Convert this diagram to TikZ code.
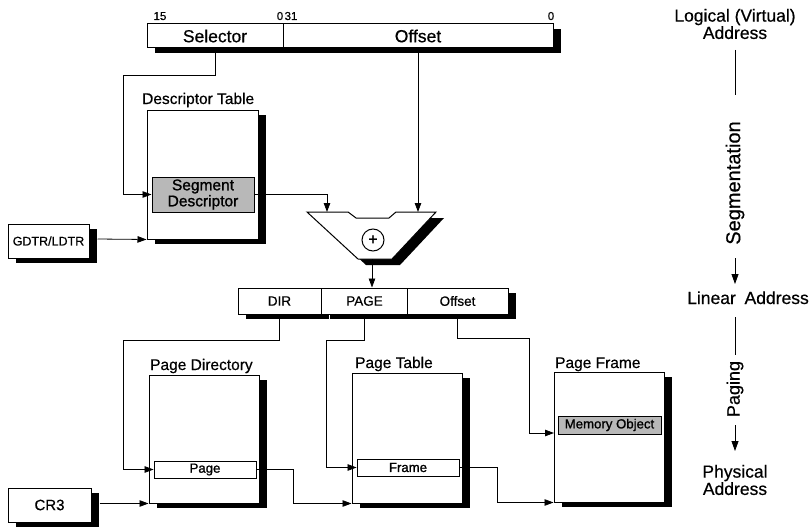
\documentclass[tikz,border=0pt]{standalone}
\usepackage{fontspec}
\setmainfont{Liberation Sans}[FakeBold=0.5]
\newfontfamily\heavyfont{Liberation Sans}[FakeBold=1.2]
\usetikzlibrary{arrows.meta,shadows}
\begin{document}
\begin{tikzpicture}[x=1pt,y=-1pt,
  box/.style={draw=black, line width=1pt, fill=white, inner sep=0pt, rectangle},
  shad/.style={drop shadow={shadow xshift=8pt, shadow yshift=-5pt, fill=black, opacity=1}},
  entry/.style={box, line width=0.9pt},
  grayentry/.style={box, fill=black!28},
  ln/.style={line width=0.8pt},
  arr/.style={ln, -{Triangle[length=9pt,width=6.5pt]}},
  fbig/.style={font=\fontsize{17.5}{20}\selectfont},
  ftitle/.style={font=\fontsize{15.5}{18}\selectfont},
  fmid/.style={font=\fontsize{13.5}{16}\selectfont},
  fheavy/.style={font=\heavyfont\fontsize{13.2}{16}\selectfont},
  fsmall/.style={font=\fontsize{12.5}{15}\selectfont},
  fnum/.style={font=\fontsize{11.5}{13}\selectfont},
  fside/.style={font=\fontsize{17.5}{16}\selectfont},
]
\useasboundingbox (0,0) rectangle (809,527);

% ---------- logical address ----------
\node[box, shad, minimum width=136pt, minimum height=24pt, fbig] (sel) at (215,36) {Selector};
\node[box, shad, minimum width=270pt, minimum height=24pt, fbig] (off) at (418,36) {Offset};
\node[fnum, anchor=base] (n15) at (160,20) {15};
\node[fnum, anchor=base] (n0a) at (280,20) {0};
\node[fnum, anchor=base] (n31) at (291,20) {31};
\node[fnum, anchor=base] (n0b) at (551,20) {0};

% ---------- descriptor table ----------
\node[ftitle, anchor=base west, inner sep=0pt] (dtt) at (142,104) {Descriptor Table};
\node[box, shad, minimum width=111pt, minimum height=129pt] (dt) at (202.5,174.5) {};
\node[grayentry, minimum width=102pt, minimum height=35pt, align=center,
      font=\heavyfont\fontsize{15.5}{16}\selectfont] (sd) at (203,194.5) {Segment\\Descriptor};
\node[box, shad, minimum width=81pt, minimum height=34pt, fsmall] (gdtr) at (48.5,241) {GDTR/LDTR};

% ---------- adder ----------
\fill[black] (315,218) -- (356,218) -- (364,224) -- (397,224) -- (404,218) -- (444,218)
   -- (400,265) -- (366,265) -- cycle;
\draw[line width=1pt, fill=white] (307,212) -- (348,212) -- (356,218) -- (389,218) -- (396,212)
   -- (436,212) -- (392,259) -- (358,259) -- cycle;
\node[draw, circle, line width=1pt, minimum size=22pt, inner sep=0pt,
      font=\heavyfont\fontsize{16}{16}\selectfont] (plus) at (373,240) {+};
\coordinate (addL) at (327,212);
\coordinate (addR) at (418,212);
\coordinate (addB) at (372,259);

% ---------- linear address ----------
\node[box, shad, minimum width=83pt, minimum height=26pt, fmid] (ldir) at (279.5,301) {DIR};
\node[box, shad, minimum width=86pt, minimum height=26pt, fmid] (lpage) at (364.5,301) {PAGE};
\node[box, shad, minimum width=101pt, minimum height=26pt, fmid] (loff) at (457.5,301) {Offset};

% ---------- paging structures ----------
\node[ftitle, anchor=base west, inner sep=0pt] (pdt) at (150,370) {Page Directory};
\node[box, shad, minimum width=110pt, minimum height=128pt] (pd) at (204,439) {};
\node[entry, minimum width=102pt, minimum height=17pt, fheavy] (pg) at (205,469.5) {Page};

\node[ftitle, anchor=base west, inner sep=0pt] (ptt) at (355,368) {Page Table};
\node[box, shad, minimum width=110pt, minimum height=130pt] (pt) at (407,438) {};
\node[entry, minimum width=102pt, minimum height=17pt, fheavy] (fr) at (408,467.5) {Frame};

\node[ftitle, anchor=base west, inner sep=0pt] (pft) at (555,368) {Page Frame};
\node[box, shad, minimum width=110pt, minimum height=130pt] (pf) at (609,437) {};
\node[grayentry, minimum width=103pt, minimum height=18pt, fheavy] (mo) at (609.5,425) {Memory Object};

\node[box, shad, minimum width=83pt, minimum height=34pt, font=\fontsize{15}{18}\selectfont] (cr3) at (49.5,505) {CR3};

% ---------- connectors ----------
\coordinate (c1) at (123,75);
\draw[arr] (sel.south) |- (c1) |- (sd.west);
\draw[arr] (off.south) -- (addR);
\draw[arr] (sd.east) -| (addL);
\draw[arr] ([xshift=8pt,yshift=2pt]gdtr.east) -- (dt.south west);
\draw[arr] (addB) -- (addB |- lpage.north);

\coordinate (c2) at (123,340);
\draw[arr] (ldir.south) |- (c2) |- (pg.west);
\coordinate (c3) at (326,340);
\draw[arr] (lpage.south) |- (c3) |- (fr.west);
\coordinate (c4) at (529,338);
\coordinate (moin) at (554,433);
\draw[arr] (loff.south) |- (c4) |- (moin);

\coordinate (c5) at (293,469.5);
\draw[arr] (pg.east) -- (c5) |- (pt.south west);
\coordinate (c6) at (497,467.5);
\draw[arr] (fr.east) -- (c6) |- (pf.south west);
\draw[arr] ([xshift=8pt]cr3.east |- pd.south) -- (pd.south west);

% ---------- right-hand legend ----------
\node[fside, align=center] (log) at (735,24) {Logical (Virtual)\\Address};
\node[font=\fontsize{20}{20}\selectfont, rotate=90] (seg) at (735,183) {Segmentation};
\node[fside, anchor=base] (lin) at (748,304) {Linear\hspace{0.5em}Address};
\node[font=\fontsize{18}{18}\selectfont, rotate=90] (pag) at (735,389) {Paging};
\node[fside, align=center] (phys) at (735,480) {Physical\\Address};
\coordinate (r1) at (735,50);
\coordinate (r2) at (735,95);
\coordinate (r3) at (735,258);
\coordinate (r4) at (735,284);
\coordinate (r5) at (735,317);
\coordinate (r6) at (735,355);
\coordinate (r7) at (735,425);
\coordinate (r8) at (735,451);
\draw[ln] (r1) -- (r2);
\draw[ln, -{Triangle[length=10pt,width=7pt]}] (r3) -- (r4);
\draw[ln] (r5) -- (r6);
\draw[ln, -{Triangle[length=10pt,width=7pt]}] (r7) -- (r8);
\end{tikzpicture}
\end{document}
